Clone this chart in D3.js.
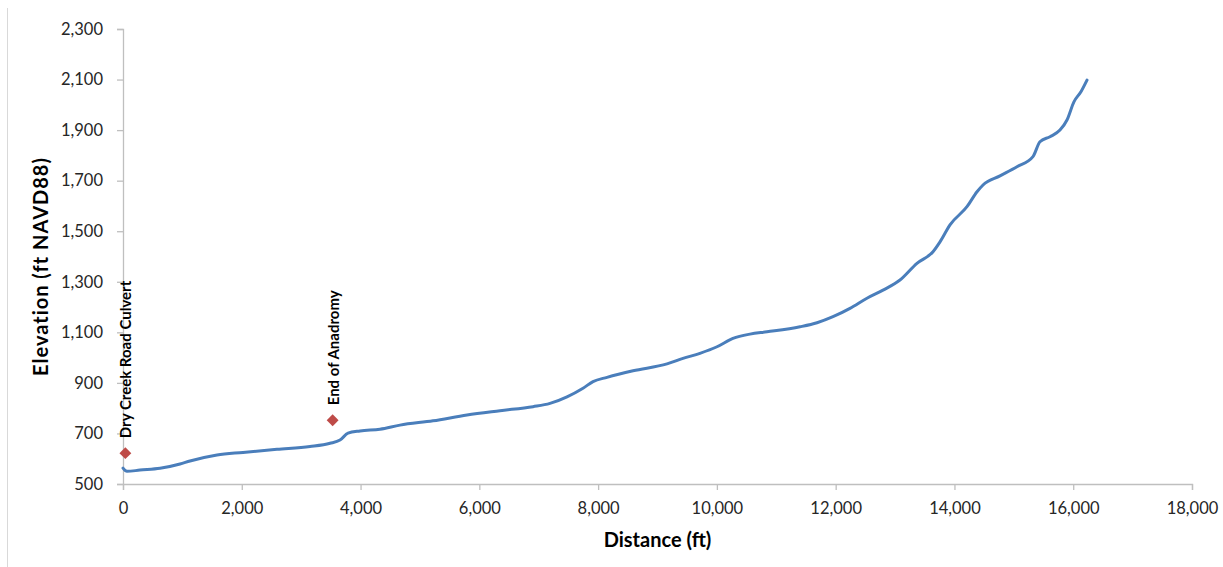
<!DOCTYPE html>
<html>
<head>
<meta charset="utf-8">
<script src="https://cdn.jsdelivr.net/npm/d3@7"></script>
<style>
  body { margin: 0; background: #fff; }
  .tick text { font-family: Lato, "Liberation Sans", sans-serif; font-size: 16.5px; fill: #262626; }
  .axis-title { font-family: Lato, "Liberation Sans", sans-serif; font-size: 20px; font-weight: bold; fill: #000; }
  .marker-label { font-family: Lato, "Liberation Sans", sans-serif; font-size: 15px; font-weight: bold; fill: #000; }
</style>
</head>
<body>
<div id="main"></div>
<script>
// Sizes
var svgWidth = 1223;
var svgHeight = 567;
var plot = {l: 123, r: 1192, t: 29, b: 484};

// Profile distance (ft) and elevation (ft NAVD88)
var distance = [0, 67, 286, 623, 960, 1128, 1583, 2021, 2593, 3149, 3486, 3654, 3789, 3991, 4327,
  4664, 5220, 5792, 6348, 6904, 7190, 7476, 7746, 7914, 8150, 8588, 9160, 9429, 9715, 10002,
  10271, 10557, 10844, 11399, 11686, 11955, 12241, 12527, 12797, 13083, 13369, 13639, 13757,
  13925, 14211, 14380, 14481, 14767, 15053, 15322, 15440, 15609, 15777, 15895, 16012, 16130, 16232];
var elevation = [563, 550, 555, 562, 579, 591, 615, 625, 637, 648, 661, 674, 701, 710, 717,
  733, 750, 773, 790, 806, 819, 845, 879, 905, 922, 948, 975, 997, 1017, 1043,
  1076, 1093, 1102, 1122, 1138, 1162, 1195, 1235, 1267, 1307, 1373, 1419, 1458,
  1525, 1597, 1656, 1683, 1719, 1755, 1795, 1854, 1874, 1900, 1940, 2012, 2052, 2098];

// Labelled points
var markerNames = ['Dry Creek Road Culvert', 'End of Anadromy'];
var markerDistance = [40, 3530];
var markerElevation = [622, 752];

var xTicks = d3.range(0, 18001, 2000);
var yTicks = d3.range(500, 2301, 200);

var svg = d3.select('#main')
  .append('svg')
  .attr('width', svgWidth)
  .attr('height', svgHeight);

// chart area border (left edge visible)
svg.append('line')
  .attr('x1', 7.5).attr('x2', 7.5)
  .attr('y1', 8).attr('y2', svgHeight)
  .attr('stroke', '#d9d9d9');

var xScale = d3.scaleLinear().domain([0, 18000]).range([plot.l, plot.r]);
var yScale = d3.scaleLinear().domain([500, 2300]).range([plot.b, plot.t]);

var fmt = d3.format(',');

var xAxis = d3.axisBottom(xScale).tickValues(xTicks).tickFormat(fmt).tickSize(6).tickPadding(12);
var yAxis = d3.axisLeft(yScale).tickValues(yTicks).tickFormat(fmt).tickSize(6).tickPadding(14);

var gx = svg.append('g')
  .attr('transform', `translate(0, ${plot.b})`)
  .call(xAxis);
var gy = svg.append('g')
  .attr('transform', `translate(${plot.l}, 0)`)
  .call(yAxis);

[gx, gy].forEach(function(g) {
  g.selectAll('path, line').attr('stroke', '#bfbfbf').attr('stroke-width', 1.3);
});

// profile line
var points = distance.map(function(d, i) { return [d, elevation[i]]; });
var line = d3.line()
  .x(function(d) { return xScale(d[0]); })
  .y(function(d) { return yScale(d[1]); })
  .curve(d3.curveMonotoneX);

svg.append('path')
  .datum(points)
  .attr('fill', 'none')
  .attr('stroke', '#4a7ebb')
  .attr('stroke-width', 3)
  .attr('stroke-linejoin', 'round')
  .attr('stroke-linecap', 'round')
  .attr('d', line);

// markers and their labels
var markers = markerNames.map(function(n, i) {
  return {name: n, dist: markerDistance[i], elev: markerElevation[i]};
});

svg.selectAll('.marker')
  .data(markers)
  .enter()
  .append('path')
  .attr('class', 'marker')
  .attr('d', d3.symbol().type(d3.symbolDiamond2).size(90))
  .attr('transform', function(d) { return `translate(${xScale(d.dist)}, ${yScale(d.elev)})`; })
  .attr('fill', '#be4b48');

svg.selectAll('.marker-label')
  .data(markers)
  .enter()
  .append('text')
  .attr('class', 'marker-label')
  .attr('transform', function(d) { return `translate(${xScale(d.dist) + 6}, ${yScale(d.elev) - 15}) rotate(-90)`; })
  .text(function(d) { return d.name; });

// axis titles
svg.append('text')
  .attr('class', 'axis-title')
  .attr('text-anchor', 'middle')
  .attr('transform', `translate(${(plot.l + plot.r) / 2}, 547)`)
  .text('Distance (ft)');

svg.append('text')
  .attr('class', 'axis-title')
  .attr('text-anchor', 'middle')
  .attr('letter-spacing', 1)
  .attr('transform', `translate(48, ${(plot.t + plot.b) / 2 + 10}) rotate(-90)`)
  .text('Elevation (ft NAVD88)');
</script>
</body>
</html>
